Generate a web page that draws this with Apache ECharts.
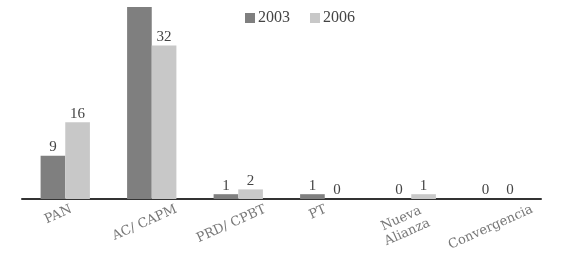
<!DOCTYPE html>
<html>
<head>
<meta charset="utf-8">
<script src="https://cdn.jsdelivr.net/npm/echarts@6/dist/echarts.min.js"></script>
<style>html,body{margin:0;padding:0;background:#fff}#c{width:566px;height:258px}</style>
</head>
<body>
<div id="c"></div>
<script>
var categories = ['PAN', 'AC/ CAPM', 'PRD/ CPBT', 'PT', 'Nueva\nAlianza', 'Convergencia'];
var seriesNames = ['2003', '2006'];
var values2003 = [9, 40, 1, 1, 0, 0];
var values2006 = [16, 32, 2, 0, 1, 0];
var hiddenLabel2003 = [false, true, false, false, false, false];

var font = 'Liberation Serif';
var catFont = 'DejaVu Serif';
var catSize = 13, catLine = 15, rotDeg = 24;
var th = rotDeg * Math.PI / 180;
var ctx = document.createElement('canvas').getContext('2d');
ctx.font = catSize + 'px "' + catFont + '"';

function catLabelItem(name, i) {
  var lines = name.split('\n');
  var L = 0;
  lines.forEach(function (s) { L = Math.max(L, ctx.measureText(s).width); });
  var h = lines.length * catLine;
  var H = L * Math.sin(th) + h * Math.cos(th);
  var sx = -7, sy = 3 + H / 2;
  var ox = sx * Math.cos(th) - sy * Math.sin(th);
  var oy = sx * Math.sin(th) + sy * Math.cos(th);
  return {value: [i, 0], label: {offset: [ox, oy]}};
}

var chart = echarts.init(document.getElementById('c'), null, {renderer: 'canvas'});
function mk(vals, hide) {
  return vals.map(function (v, i) {
    var d = {value: v};
    if (hide && hide[i]) d.label = {show: false};
    return d;
  });
}
chart.setOption({
  animation: false,
  textStyle: {fontFamily: font},
  legend: {
    top: 5, left: 240,
    itemWidth: 10, itemHeight: 10, itemGap: 20,
    icon: 'rect',
    textStyle: {fontFamily: font, fontSize: 16, color: '#444', padding: [0, 0, 0, -2]},
    data: seriesNames
  },
  grid: {left: 22, right: 25, top: 7, bottom: 59, containLabel: false},
  xAxis: {
    type: 'category',
    data: categories,
    axisLine: {lineStyle: {color: '#333', width: 2}},
    axisTick: {show: false},
    axisLabel: {show: false}
  },
  yAxis: {type: 'value', min: 0, max: 40, show: false, splitLine: {show: false}},
  series: [
    {name: seriesNames[0], type: 'bar', data: mk(values2003, hiddenLabel2003), barGap: '0%', barCategoryGap: '43%',
     itemStyle: {color: '#7f7f7f'},
     label: {show: true, position: 'top', distance: 1, fontFamily: font, fontSize: 15, color: '#444'}},
    {name: seriesNames[1], type: 'bar', data: mk(values2006), barGap: '0%', barCategoryGap: '43%',
     itemStyle: {color: '#c8c8c8'},
     label: {show: true, position: 'top', distance: 1, fontFamily: font, fontSize: 15, color: '#444'}},
    {name: 'catLabels', type: 'scatter', silent: true, clip: false, symbolSize: 1,
     itemStyle: {color: 'rgba(0,0,0,0)'},
     data: categories.map(catLabelItem),
     label: {show: true, position: 'inside', align: 'center', verticalAlign: 'middle', rotate: rotDeg,
       fontFamily: catFont, fontSize: catSize, lineHeight: catLine, color: '#555',
       formatter: function (p) { return categories[p.dataIndex]; }}}
  ]
});
</script>
</body>
</html>
